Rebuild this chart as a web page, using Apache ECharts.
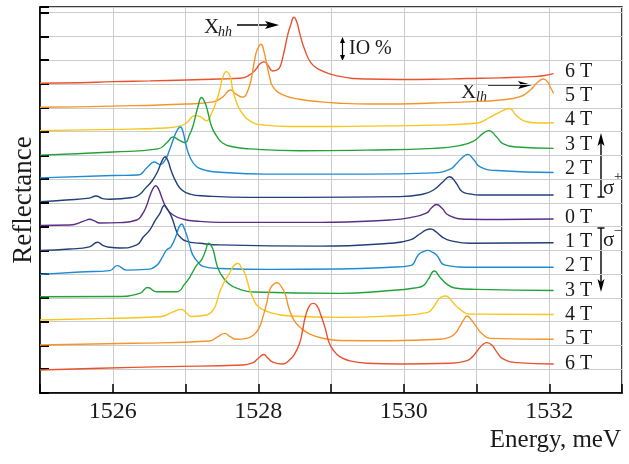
<!DOCTYPE html>
<html>
<head>
<meta charset="utf-8">
<script src="https://cdn.jsdelivr.net/npm/echarts@6/dist/echarts.min.js"></script>
<style>
  html, body { margin: 0; padding: 0; background: #fff; }
  #main { width: 629px; height: 464px; }
</style>
</head>
<body>
<div id="main"></div>
<script>
// spectra, [energy meV, reflectance (offset, grid units of 10 %)]
const plus6 = [[1525.00,13.03],[1525.55,13.05],[1526.00,13.10],[1526.51,13.13],[1527.01,13.17],[1527.47,13.21],[1527.75,13.24],[1527.88,13.38],[1527.97,13.63],[1528.02,13.84],[1528.08,13.93],[1528.13,13.80],[1528.20,13.55],[1528.26,13.59],[1528.30,13.73],[1528.34,14.15],[1528.41,15.13],[1528.45,15.52],[1528.49,15.81],[1528.53,15.61],[1528.57,15.13],[1528.64,14.43],[1528.73,13.87],[1528.85,13.59],[1529.08,13.34],[1529.49,13.21],[1529.95,13.19],[1530.41,13.20],[1530.86,13.23],[1531.32,13.26],[1531.78,13.31],[1531.94,13.36],[1532.06,13.44]];
const plus5 = [[1525.00,12.02],[1526.00,12.07],[1527.01,12.16],[1527.38,12.25],[1527.51,12.45],[1527.62,12.75],[1527.70,12.56],[1527.79,12.45],[1527.86,12.75],[1527.91,13.31],[1527.95,14.01],[1527.99,14.47],[1528.04,14.67],[1528.08,14.35],[1528.11,13.93],[1528.16,13.25],[1528.20,12.89],[1528.34,12.54],[1528.57,12.36],[1528.85,12.25],[1529.12,12.19],[1529.54,12.16],[1529.95,12.16],[1530.40,12.20],[1530.87,12.25],[1531.33,12.33],[1531.60,12.47],[1531.74,12.75],[1531.83,13.04],[1531.92,13.21],[1531.98,13.08],[1532.02,12.83],[1532.06,12.61]];
const plus4 = [[1525.00,11.04],[1526.00,11.09],[1526.72,11.15],[1526.92,11.23],[1527.01,11.35],[1527.13,11.67],[1527.20,11.63],[1527.29,11.46],[1527.36,11.78],[1527.43,12.33],[1527.47,12.75],[1527.51,13.25],[1527.56,13.52],[1527.61,13.34],[1527.65,12.75],[1527.69,12.33],[1527.75,11.91],[1527.88,11.46],[1528.09,11.27],[1528.43,11.21],[1528.85,11.21],[1529.49,11.23],[1530.41,11.27],[1531.00,11.35],[1531.19,11.61],[1531.32,11.82],[1531.45,11.97],[1531.55,11.67],[1531.69,11.41],[1531.87,11.36],[1532.06,11.37]];
const plus3 = [[1525.00,10.01],[1526.00,10.14],[1526.62,10.27],[1526.74,10.52],[1526.83,10.77],[1526.91,10.64],[1526.99,10.53],[1527.06,10.90],[1527.10,11.20],[1527.17,12.03],[1527.22,12.43],[1527.27,12.20],[1527.31,11.78],[1527.36,11.20],[1527.42,10.85],[1527.51,10.52],[1527.65,10.36],[1527.88,10.27],[1528.57,10.19],[1529.49,10.22],[1530.41,10.29],[1530.77,10.41],[1530.96,10.60],[1531.09,10.92],[1531.17,11.04],[1531.27,10.79],[1531.37,10.48],[1531.55,10.35],[1532.06,10.29]];
const plus2 = [[1525.00,9.05],[1526.00,9.15],[1526.34,9.17],[1526.48,9.51],[1526.57,9.72],[1526.65,9.61],[1526.72,9.80],[1526.78,10.22],[1526.83,10.64],[1526.88,11.02],[1526.93,11.19],[1526.97,10.94],[1527.00,10.52],[1527.06,9.94],[1527.15,9.53],[1527.27,9.38],[1527.38,9.31],[1528.11,9.21],[1528.85,9.21],[1529.49,9.21],[1530.41,9.26],[1530.64,9.42],[1530.72,9.63],[1530.80,9.89],[1530.88,10.04],[1530.96,9.82],[1531.05,9.51],[1531.28,9.36],[1532.06,9.28]];
const plus1 = [[1525.00,8.05],[1525.36,8.12],[1525.68,8.20],[1525.77,8.29],[1525.86,8.18],[1525.96,8.15],[1526.28,8.23],[1526.37,8.35],[1526.45,8.62],[1526.54,8.92],[1526.62,9.34],[1526.67,9.72],[1526.72,9.94],[1526.76,9.76],[1526.80,9.38],[1526.87,8.88],[1526.95,8.54],[1527.06,8.37],[1527.27,8.29],[1527.88,8.23],[1528.57,8.23],[1529.95,8.26],[1530.27,8.37],[1530.41,8.54],[1530.54,8.89],[1530.63,9.10],[1530.71,8.88],[1530.80,8.48],[1530.92,8.37],[1531.05,8.33],[1532.06,8.33]];
const zero = [[1525.00,7.05],[1525.41,7.07],[1525.61,7.24],[1525.68,7.31],[1525.75,7.24],[1525.82,7.15],[1526.10,7.17],[1526.33,7.28],[1526.40,7.49],[1526.46,7.84],[1526.51,8.29],[1526.55,8.58],[1526.59,8.72],[1526.63,8.58],[1526.67,8.26],[1526.74,7.77],[1526.83,7.49],[1526.97,7.31],[1527.20,7.22],[1527.47,7.18],[1528.85,7.18],[1529.81,7.28],[1530.09,7.38],[1530.31,7.57],[1530.38,7.78],[1530.45,7.93],[1530.53,7.76],[1530.61,7.49],[1530.87,7.31],[1531.32,7.30],[1532.06,7.32]];
const minus1 = [[1525.00,6.00],[1525.41,6.06],[1525.68,6.15],[1525.79,6.34],[1525.87,6.20],[1525.96,6.13],[1526.10,6.10],[1526.33,6.23],[1526.42,6.56],[1526.51,6.86],[1526.58,7.24],[1526.65,7.57],[1526.71,7.89],[1526.75,7.74],[1526.81,7.40],[1526.88,6.77],[1526.92,6.58],[1527.01,6.39],[1527.20,6.30],[1527.47,6.23],[1528.85,6.18],[1529.81,6.30],[1530.09,6.44],[1530.22,6.69],[1530.31,6.86],[1530.37,6.90],[1530.44,6.79],[1530.54,6.54],[1530.64,6.41],[1530.91,6.30],[1532.06,6.32]];
const minus2 = [[1525.00,4.99],[1525.55,5.09],[1525.96,5.15],[1526.06,5.36],[1526.19,5.17],[1526.46,5.20],[1526.60,5.36],[1526.69,5.76],[1526.74,6.02],[1526.80,6.15],[1526.88,6.69],[1526.91,6.98],[1526.95,7.11],[1526.98,6.94],[1527.02,6.61],[1527.06,6.18],[1527.10,5.81],[1527.17,5.51],[1527.24,5.33],[1527.47,5.24],[1528.16,5.20],[1529.12,5.22],[1529.81,5.29],[1530.09,5.36],[1530.20,5.81],[1530.27,5.95],[1530.33,6.00],[1530.39,5.93],[1530.45,5.81],[1530.57,5.38],[1530.96,5.29],[1532.06,5.29]];
const minus3 = [[1525.00,4.05],[1526.05,4.06],[1526.37,4.19],[1526.48,4.44],[1526.60,4.26],[1526.88,4.26],[1526.99,4.59],[1527.06,4.88],[1527.15,5.36],[1527.22,5.60],[1527.27,5.94],[1527.32,6.30],[1527.38,6.02],[1527.42,5.51],[1527.47,5.09],[1527.59,4.61],[1527.75,4.36],[1527.93,4.25],[1529.12,4.19],[1529.81,4.31],[1530.15,4.42],[1530.27,4.52],[1530.34,4.80],[1530.42,5.13],[1530.50,4.86],[1530.59,4.59],[1530.70,4.42],[1531.00,4.36],[1532.06,4.31]];
const minus4 = [[1525.00,3.07],[1525.91,3.14],[1526.65,3.21],[1526.83,3.41],[1526.94,3.52],[1527.00,3.41],[1527.08,3.22],[1527.29,3.28],[1527.38,3.49],[1527.43,3.83],[1527.47,4.25],[1527.54,4.71],[1527.61,5.07],[1527.66,5.34],[1527.72,5.46],[1527.77,5.26],[1527.82,5.01],[1527.88,4.38],[1527.94,3.91],[1528.00,3.63],[1528.16,3.39],[1528.43,3.24],[1529.12,3.18],[1529.81,3.24],[1530.32,3.38],[1530.41,3.62],[1530.47,3.91],[1530.52,4.04],[1530.57,4.08],[1530.62,4.02],[1530.66,3.87],[1530.75,3.58],[1530.91,3.32],[1532.06,3.30]];
const minus5 = [[1525.00,2.02],[1526.28,2.09],[1527.33,2.19],[1527.44,2.36],[1527.54,2.51],[1527.62,2.36],[1527.70,2.26],[1527.84,2.30],[1527.95,2.48],[1528.01,2.73],[1528.06,3.16],[1528.12,3.83],[1528.17,4.42],[1528.26,4.64],[1528.32,4.46],[1528.37,4.17],[1528.42,3.58],[1528.49,3.07],[1528.57,2.78],[1528.71,2.48],[1528.94,2.27],[1529.12,2.21],[1529.81,2.20],[1530.50,2.26],[1530.64,2.36],[1530.71,2.52],[1530.77,2.80],[1530.83,3.11],[1530.87,3.24],[1530.92,3.11],[1531.00,2.78],[1531.08,2.48],[1531.19,2.30],[1532.06,2.26]];
const minus6 = [[1525.00,0.97],[1525.82,1.04],[1526.74,1.11],[1527.79,1.18],[1527.93,1.28],[1527.99,1.43],[1528.08,1.62],[1528.13,1.47],[1528.20,1.30],[1528.34,1.22],[1528.43,1.39],[1528.50,1.64],[1528.57,2.10],[1528.61,2.65],[1528.65,3.24],[1528.71,3.70],[1528.76,3.77],[1528.81,3.66],[1528.86,3.28],[1528.92,2.73],[1528.97,2.15],[1529.03,1.81],[1529.12,1.53],[1529.26,1.35],[1529.49,1.25],[1529.95,1.22],[1530.64,1.25],[1530.86,1.35],[1530.94,1.51],[1531.01,1.77],[1531.08,2.02],[1531.14,2.12],[1531.21,2.02],[1531.28,1.72],[1531.36,1.45],[1531.55,1.28],[1532.06,1.22]];

// field labels, top to bottom
const fieldLabels = ['6 T', '5 T', '4 T', '3 T', '2 T', '1 T', '0 T', '1 T', '2 T', '3 T', '4 T', '5 T', '6 T'];
const xTickLabels = [1526, 1528, 1530, 1532];

const colorOf = {6: '#e8532f', 5: '#f4952c', 4: '#f8c51f', 3: '#22a33a', 2: '#1f8bd2', 1: '#233f78', 0: '#5b2d87'};
const curves = [
  [plus6, 6], [plus5, 5], [plus4, 4], [plus3, 3], [plus2, 2], [plus1, 1], [zero, 0],
  [minus1, 1], [minus2, 2], [minus3, 3], [minus4, 4], [minus5, 5], [minus6, 6]
];

const serif = '"Liberation Serif", "DejaVu Serif", serif';
const ink = '#1a1a1a';

let myChart = echarts.init(document.getElementById('main'));

let graphic = [
  {type: 'text', x: 24, y: 200, rotation: Math.PI / 2,
   style: {text: 'Reflectance', font: '27px ' + serif, fill: ink, align: 'center', verticalAlign: 'middle'}},
  {type: 'text', x: 621, y: 440,
   style: {text: 'Energy, meV', font: '25px ' + serif, fill: ink, align: 'right', verticalAlign: 'middle'}},
  // X_hh
  {type: 'text', x: 204, y: 27, style: {text: 'X', font: '21px ' + serif, fill: ink, align: 'left', verticalAlign: 'middle'}},
  {type: 'text', x: 218, y: 32, style: {text: 'hh', font: 'italic 14px ' + serif, fill: ink, align: 'left', verticalAlign: 'middle'}},
  {type: 'line', shape: {x1: 237, y1: 25, x2: 270, y2: 25}, style: {stroke: '#000', lineWidth: 1.5}},
  {type: 'polygon', shape: {points: [[279, 25], [265, 21], [268, 25], [265, 29]]}, style: {fill: '#000'}},
  // X_lh
  {type: 'text', x: 461, y: 92, style: {text: 'X', font: '21px ' + serif, fill: ink, align: 'left', verticalAlign: 'middle'}},
  {type: 'text', x: 476, y: 97, style: {text: 'lh', font: 'italic 14px ' + serif, fill: ink, align: 'left', verticalAlign: 'middle'}},
  {type: 'line', shape: {x1: 488, y1: 85, x2: 524, y2: 85}, style: {stroke: '#000', lineWidth: 1.5}},
  {type: 'polygon', shape: {points: [[532, 85], [518, 81], [521, 85], [518, 89]]}, style: {fill: '#000'}},
  // 10 % scale bar
  {type: 'line', shape: {x1: 342.5, y1: 40, x2: 342.5, y2: 58}, style: {stroke: '#000', lineWidth: 1.2}},
  {type: 'polygon', shape: {points: [[342.5, 37], [340, 43], [345, 43]]}, style: {fill: '#000'}},
  {type: 'polygon', shape: {points: [[342.5, 61], [340, 55], [345, 55]]}, style: {fill: '#000'}},
  {type: 'text', x: 349, y: 49, style: {text: 'IO %', font: '20px ' + serif, fill: ink, align: 'left', verticalAlign: 'middle'}},
  // sigma+ arrow
  {type: 'line', shape: {x1: 601, y1: 197, x2: 601, y2: 140}, style: {stroke: '#000', lineWidth: 1.4}},
  {type: 'line', shape: {x1: 597.5, y1: 197, x2: 604.5, y2: 197}, style: {stroke: '#000', lineWidth: 1.4}},
  {type: 'polygon', shape: {points: [[601, 133], [597.5, 146], [601, 143], [604.5, 146]]}, style: {fill: '#000'}},
  {type: 'text', x: 603, y: 188, style: {text: 'σ', font: '21px ' + serif, fill: ink, align: 'left', verticalAlign: 'middle'}},
  {type: 'text', x: 614, y: 177, style: {text: '+', font: '14px ' + serif, fill: ink, align: 'left', verticalAlign: 'middle'}},
  // sigma- arrow
  {type: 'line', shape: {x1: 601, y1: 228, x2: 601, y2: 285}, style: {stroke: '#000', lineWidth: 1.4}},
  {type: 'line', shape: {x1: 597.5, y1: 228, x2: 604.5, y2: 228}, style: {stroke: '#000', lineWidth: 1.4}},
  {type: 'polygon', shape: {points: [[601, 292], [597.5, 279], [601, 282], [604.5, 279]]}, style: {fill: '#000'}},
  {type: 'text', x: 603, y: 240, style: {text: 'σ', font: '21px ' + serif, fill: ink, align: 'left', verticalAlign: 'middle'}},
  {type: 'text', x: 614, y: 231, style: {text: '−', font: '14px ' + serif, fill: ink, align: 'left', verticalAlign: 'middle'}}
];
fieldLabels.forEach(function (t, i) {
  graphic.push({type: 'text', x: 565, y: 71.5 + i * 24.33,
    style: {text: t, font: '20px ' + serif, fill: ink, align: 'left', verticalAlign: 'middle'}});
});

const option = {
  animation: false,
  backgroundColor: '#fff',
  grid: {left: 40, top: 7, width: 582, height: 386, show: true, borderColor: '#000', borderWidth: 1.5, backgroundColor: 'transparent'},
  xAxis: {
    type: 'value', min: 1525, max: 1533, interval: 1,
    axisLine: {show: true, onZero: false, lineStyle: {color: '#000', width: 1.5}},
    axisTick: {show: true, inside: true, length: 9, lineStyle: {color: '#000', width: 1.5}},
    axisLabel: {
      interval: 0, margin: 7, fontFamily: serif, fontSize: 24, color: ink,
      formatter: function (v) { return xTickLabels.indexOf(v) >= 0 ? String(v) : ''; }
    },
    splitLine: {show: true, lineStyle: {color: '#cccccc', width: 1}}
  },
  yAxis: {
    type: 'value', min: 0, max: 16.24, interval: 1,
    axisLine: {show: true, lineStyle: {color: '#000', width: 1.5}},
    axisTick: {show: true, inside: true, length: 9, lineStyle: {color: '#000', width: 2}},
    axisLabel: {show: false},
    splitLine: {show: true, lineStyle: {color: '#cccccc', width: 1}}
  },
  series: curves.map(function (c) {
    return {
      type: 'line', data: c[0], smooth: 0.5, showSymbol: false, silent: true,
      lineStyle: {color: colorOf[c[1]], width: 1.4}
    };
  }),
  graphic: graphic
};

myChart.setOption(option);
</script>
</body>
</html>
